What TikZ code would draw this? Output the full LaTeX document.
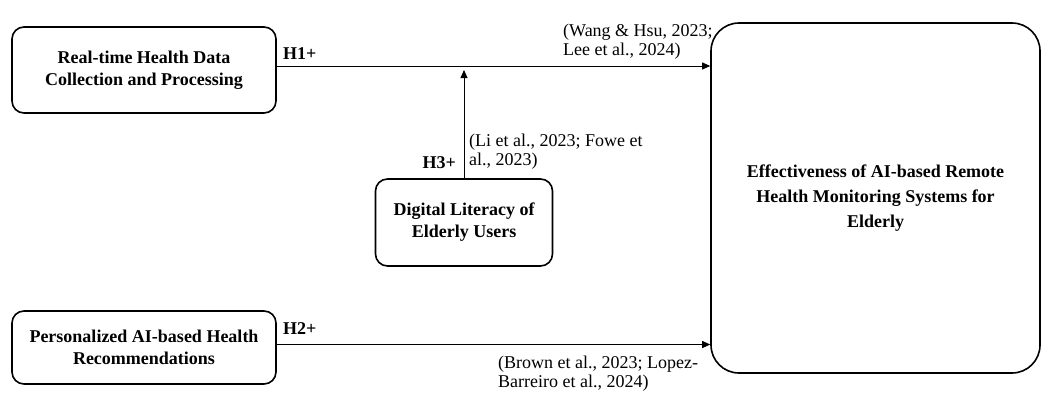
\documentclass[tikz,border=0pt]{standalone}
\usepackage{fontspec}
\setmainfont{Liberation Serif}
\usepackage{tikz}
\usetikzlibrary{arrows.meta}

\begin{document}
\begin{tikzpicture}[x=1pt,y=-1pt,
  cbox/.style={rectangle,rounded corners=12pt,draw=black,line width=1.6pt,align=center,font=\fontsize{18}{22}\selectfont\bfseries,inner sep=0pt},
  link/.style={-{Triangle[length=8pt,width=7pt]},black,line width=0.9pt},
  hyp/.style={font=\fontsize{18}{20}\selectfont\bfseries,inner sep=0pt},
  cite/.style={align=left,font=\fontsize{18}{19}\selectfont,inner sep=0pt}]
\useasboundingbox (0,0) rectangle (1043,392);
\node[cbox,minimum width=264pt,minimum height=86pt] (iv1) at (144,70) {Real-time Health Data\\Collection and Processing};
\node[cbox,minimum width=264pt,minimum height=73pt] (iv2) at (144,347.5) {Personalized AI-based Health\\Recommendations};
\node[cbox,minimum width=177pt,minimum height=87pt] (mod) at (464,222.5) {Digital Literacy of\\Elderly Users};
\node[cbox,rounded corners=28pt,minimum width=329pt,minimum height=350pt,font=\fontsize{18}{25}\selectfont\bfseries] (dv) at (875.5,198) {Effectiveness of AI-based Remote\\Health Monitoring Systems for\\Elderly};
% paths
\coordinate (h1s) at ([yshift=4pt]iv1.east);
\coordinate (h1e) at (h1s -| dv.west);
\draw[link] (h1s) -- (h1e);
\coordinate (h2s) at ([yshift=3pt]iv2.east);
\coordinate (h2e) at (h2s -| dv.west);
\draw[link] (h2s) -- (h2e);
\coordinate (h3e) at ([yshift=-4pt]mod.north |- h1s);
\draw[link] (mod.north) -- (h3e);
% labels
\node[hyp,anchor=west] (h1) at (283,54) {H1+};
\node[cite,anchor=west] (c1) at (563,42) {(Wang \& Hsu, 2023;\\Lee et al., 2024)};
\node[hyp,anchor=east] (h3) at (456,163) {H3+};
\node[cite,anchor=west] (c3) at (469,152) {(Li et al., 2023; Fowe et\\al., 2023)};
\node[hyp,anchor=west] (h2) at (283,329) {H2+};
\node[cite,anchor=west] (c2) at (498,374) {(Brown et al., 2023; Lopez-\\Barreiro et al., 2024)};
\end{tikzpicture}
\end{document}
